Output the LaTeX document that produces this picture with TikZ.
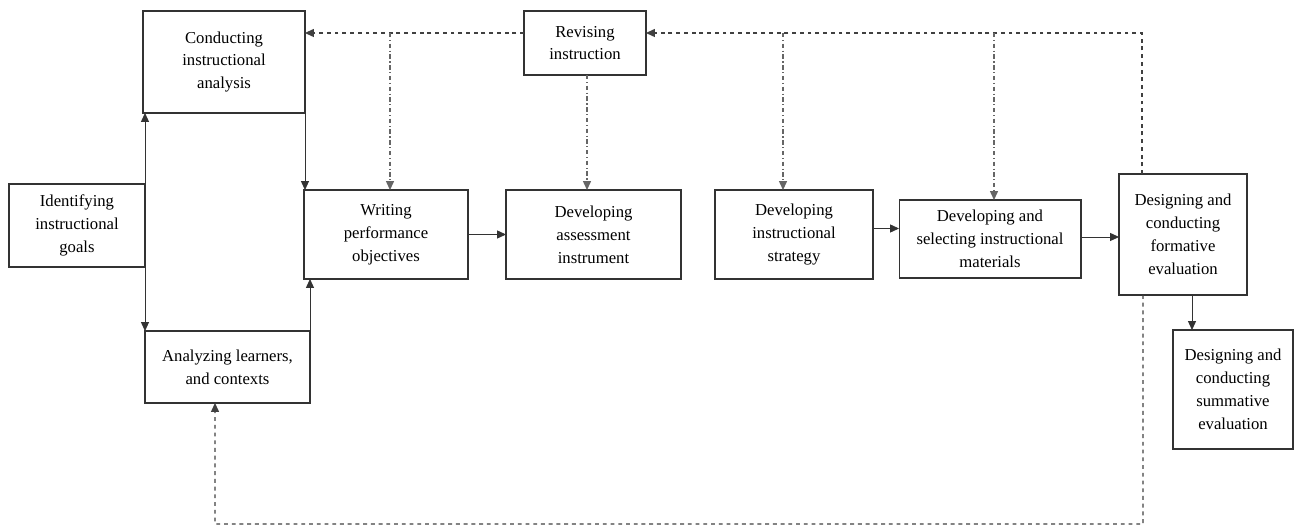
\documentclass[tikz,border=0pt]{standalone}
\usepackage{fontspec}
\setmainfont{Liberation Serif}
\usetikzlibrary{positioning,arrows.meta,calc}

\begin{document}
\begin{tikzpicture}[
  x=0.02cm, y=-0.02cm,
  font=\fontsize{9.5pt}{13pt}\selectfont,
  stepbox/.style={draw=black!80, line width=0.6pt, align=center,
    inner sep=3pt, outer sep=0pt},
  flow/.style={-{Triangle[length=5pt,width=4.5pt]}, line width=0.5pt, draw=black!80},
  feedback/.style={-{Triangle[length=5pt,width=4.5pt]}, line width=0.6pt,
    draw=black!75, dash pattern=on 2.2pt off 2.2pt},
  drop/.style={-{Triangle[length=5pt,width=4.5pt]}, line width=0.6pt,
    draw=black!60, dash pattern=on 2.5pt off 1.5pt on 0.6pt off 1.5pt}
]
% canvas in reference pixels (1295 x 526)
\path[use as bounding box] (0,0) rectangle (1295,526);

% left part: goals, analysis, learners
\node[stepbox, minimum width=2.72cm, minimum height=1.66cm] (goals) at (77,225.5)
  {Identifying\\instructional\\goals};
\node[stepbox, minimum width=3.24cm, minimum height=2.04cm] (analysis) at (224,62)
  {Conducting\\instructional\\analysis};
\node[stepbox, minimum width=3.30cm, minimum height=1.44cm] (learners) at (227.5,367)
  {Analyzing learners,\\and contexts};
\node[stepbox, minimum width=2.44cm, minimum height=1.28cm] (revise) at (585,43)
  {Revising\\instruction};

% main row
\node[stepbox, minimum width=3.28cm, minimum height=1.78cm] (objectives) at (386,234.5)
  {Writing\\performance\\objectives};
\node[stepbox, minimum width=3.50cm, minimum height=1.78cm] (assess) at (593.5,234.5)
  {Developing\\assessment\\instrument};
\node[stepbox, minimum width=3.16cm, minimum height=1.78cm] (strategy) at (794,234.5)
  {Developing\\instructional\\strategy};
\node[stepbox, minimum width=3.64cm, minimum height=1.56cm] (materials) at (990,239)
  {Developing and\\selecting instructional\\materials};
\node[stepbox, minimum width=2.56cm, minimum height=2.42cm] (formative) at (1183,234.5)
  {Designing and\\conducting\\formative\\evaluation};
\node[stepbox, minimum width=2.40cm, minimum height=2.38cm] (summative) at (1233,389.5)
  {Designing and\\conducting\\summative\\evaluation};

% solid flow
\draw[flow] (goals.north east) -- (goals.north east |- analysis.south);
\draw[flow] (goals.south east) -- (goals.south east |- learners.north);
\draw[flow] (analysis.south east) -- (analysis.south east |- objectives.north);
\draw[flow] (learners.north east) -- (learners.north east |- objectives.south);
\draw[flow] (objectives.east) -- (assess.west);
\draw[flow] ([yshift=0.12cm]strategy.east) -- ([yshift=0.12cm]strategy.east -| materials.west);
\draw[flow] ([yshift=0.04cm]materials.east) -- ([yshift=0.04cm]materials.east -| formative.west);
\draw[flow] ([xshift=0.18cm]formative.south) -- ([xshift=0.18cm]formative.south |- summative.north);

% feedback loop
\coordinate (fbline) at (0,33);
\coordinate (fbbot) at (215,524);
\draw[feedback] ([xshift=-0.82cm]formative.north) -- ([xshift=-0.82cm]formative.north |- fbline)
  -- (fbline -| revise.east);
\draw[feedback] (fbline -| revise.west) -- (fbline -| analysis.east);
\draw[drop] ([xshift=0.08cm]objectives.north |- fbline) -- ([xshift=0.08cm]objectives.north);
\draw[drop] ([xshift=0.04cm]revise.south) -- ([xshift=0.04cm]revise.south |- assess.north);
\draw[drop] ([xshift=-0.22cm]strategy.north |- fbline) -- ([xshift=-0.22cm]strategy.north);
\draw[drop] ([xshift=0.08cm]materials.north |- fbline) -- ([xshift=0.08cm]materials.north);
\draw[feedback] ([xshift=-0.8cm]formative.south) |- (fbbot) -- ([xshift=-0.25cm]learners.south);
\end{tikzpicture}
\end{document}
